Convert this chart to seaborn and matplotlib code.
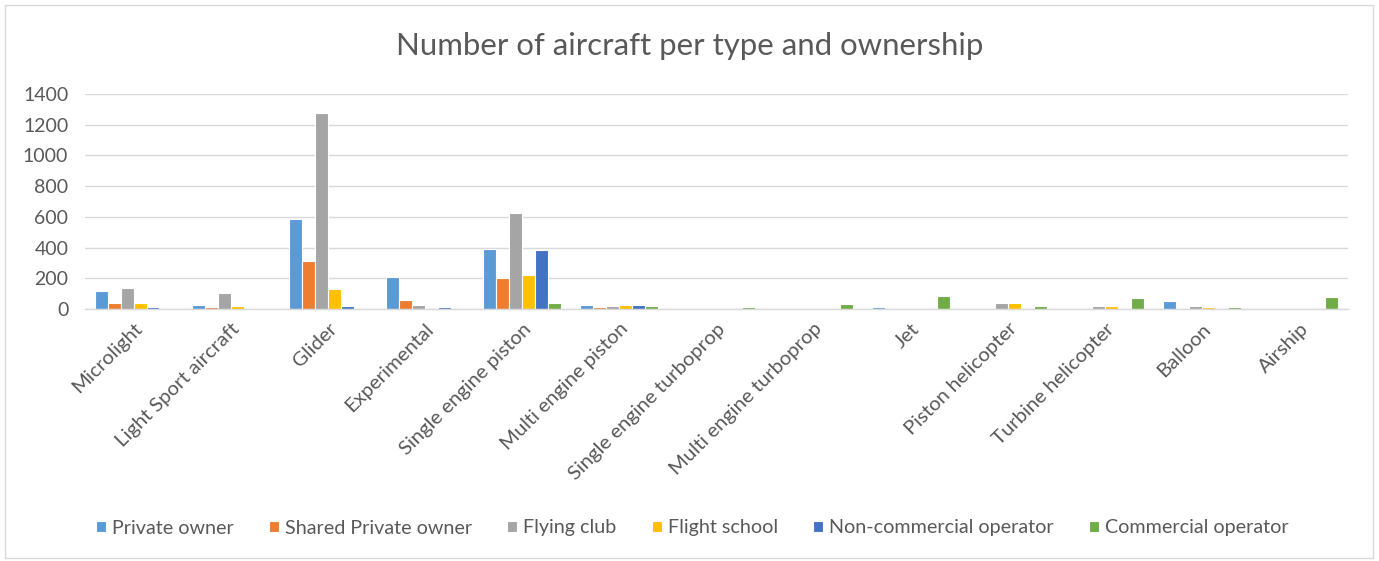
import matplotlib
matplotlib.use("Agg")
import matplotlib.pyplot as plt
from matplotlib.patches import Rectangle
import seaborn as sns
import pandas as pd

# Aircraft types (x categories)
aircraft_types = [
    "Microlight", "Light Sport aircraft", "Glider", "Experimental",
    "Single engine piston", "Multi engine piston", "Single engine turboprop",
    "Multi engine turboprop", "Jet", "Piston helicopter", "Turbine helicopter",
    "Balloon", "Airship",
]

# Ownership series
ownership = [
    "Private owner", "Shared Private owner", "Flying club",
    "Flight school", "Non-commercial operator", "Commercial operator",
]

# Counts per ownership series, one value per aircraft type
private_owner = [118, 24, 586, 207, 390, 24, 0, 0, 11, 0, 0, 50, 0]
shared_private_owner = [41, 11, 314, 57, 200, 11, 0, 0, 0, 0, 0, 0, 0]
flying_club = [139, 102, 1276, 26, 625, 18, 0, 0, 0, 41, 17, 17, 0]
flight_school = [41, 20, 131, 0, 222, 24, 0, 0, 0, 40, 17, 11, 0]
non_commercial_operator = [11, 0, 18, 11, 381, 24, 0, 0, 0, 0, 0, 0, 0]
commercial_operator = [0, 0, 0, 0, 41, 18, 11, 33, 85, 17, 70, 11, 76]

series_values = [
    private_owner, shared_private_owner, flying_club,
    flight_school, non_commercial_operator, commercial_operator,
]

y_ticks = [0, 200, 400, 600, 800, 1000, 1200, 1400]

colors = ["#5B9BD5", "#ED7D31", "#A5A5A5", "#FFC000", "#4472C4", "#70AD47"]

rows = []
for name, vals in zip(ownership, series_values):
    for t, v in zip(aircraft_types, vals):
        rows.append({"type": t, "ownership": name, "count": v})
df = pd.DataFrame(rows)

sns.set_theme(style="white")
plt.rcParams["font.family"] = ["Lato", "DejaVu Sans"]

fig = plt.figure(figsize=(13.79, 5.61), dpi=100)
ax = fig.add_axes([85 / 1379, 1 - 309 / 561, (1348 - 85) / 1379, (309 - 94) / 561])

sns.barplot(
    data=df, x="type", y="count", hue="ownership",
    order=aircraft_types, hue_order=ownership,
    palette=colors, width=0.8, edgecolor="white", linewidth=0.8,
    saturation=1, ax=ax, legend=True,
)

ax.set_ylim(0, 1400)
ax.set_yticks(y_ticks)
ax.set_yticklabels([str(v) for v in y_ticks], fontsize=14, color="#595959")
ax.yaxis.grid(True, color="#D9D9D9", linewidth=1)
ax.set_axisbelow(True)
ax.set_xlabel("")
ax.set_ylabel("")
ax.tick_params(axis="both", length=0)
ax.tick_params(axis="y", pad=12)
ax.set_xlim(-0.5, len(aircraft_types) - 0.5)
for s in ["top", "right", "left"]:
    ax.spines[s].set_visible(False)
ax.spines["bottom"].set_color("#D9D9D9")
ax.spines["bottom"].set_linewidth(1)

ax.set_xticks(range(len(aircraft_types)))
ax.set_xticklabels(aircraft_types, rotation=45, ha="right",
                   rotation_mode="anchor", fontsize=14.6, color="#595959")
ax.tick_params(axis="x", pad=8)

fig.text(0.5, 1 - 46 / 561, "Number of aircraft per type and ownership",
         ha="center", va="center", fontsize=22.4, color="#595959")

handles, labels = ax.get_legend_handles_labels()
ax.legend_.remove()
fig.legend(handles, labels, loc="center", bbox_to_anchor=(0.502, 1 - 528 / 561),
           ncol=6, frameon=False, fontsize=14.2, handlelength=0.5,
           handleheight=0.5, handletextpad=0.3, columnspacing=1.8,
           labelcolor="#595959")

# chart area border
fig.patches.append(Rectangle((5 / 1379, 3 / 561), 1368 / 1379, 553 / 561,
                             transform=fig.transFigure, fill=False,
                             edgecolor="#D9D9D9", linewidth=1))

fig.savefig("out.png", dpi=100)
